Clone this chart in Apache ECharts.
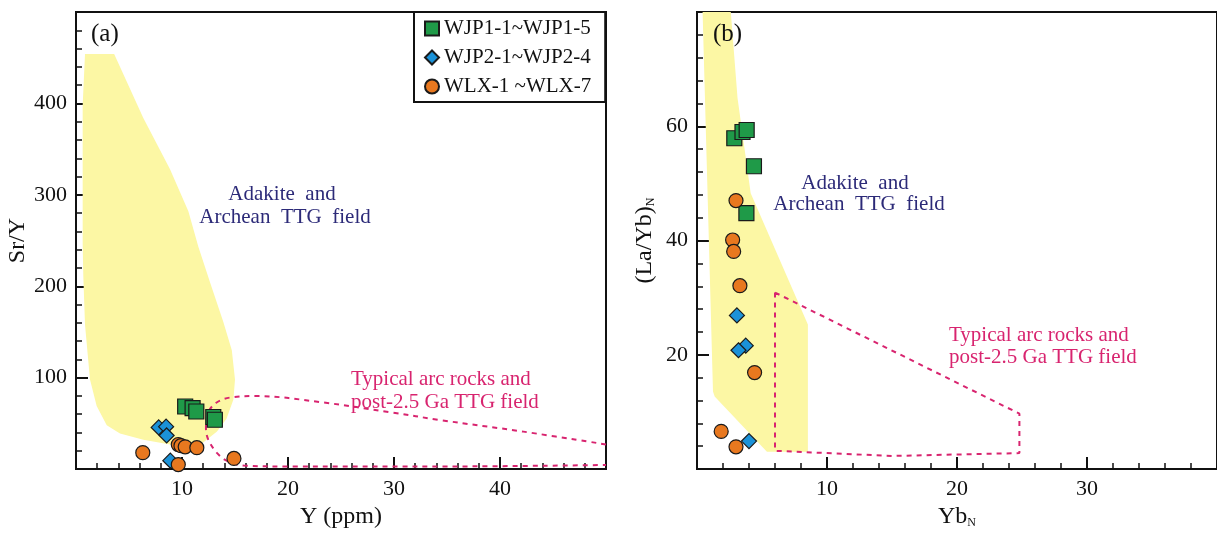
<!DOCTYPE html>
<html>
<head>
<meta charset="utf-8">
<script src="https://cdn.jsdelivr.net/npm/echarts@6/dist/echarts.min.js"></script>
<style>
  html, body { margin: 0; padding: 0; background: #fff; }
  #chart { width: 1217px; height: 534px; }
</style>
</head>
<body>
<div id="chart"></div>
<script>
// panel (a): Sr/Y vs Y
const wjp1A = [[10.3, 68.5], [11.0, 66.6], [11.35, 63], [12.95, 57], [13.1, 54]]
const wjp2A = [[7.8, 45.6], [8.5, 46.4], [8.55, 36.8], [8.9, 9.2]]
const wlxA = [[6.3, 18], [9.65, 26.9], [9.9, 25.6], [10.3, 24.4], [11.4, 23.4], [9.65, 5], [14.9, 11.7]]
// adakite / archean TTG field outline (a)
const adakiteA = [
  [0.85, 454], [3.6, 454], [6.35, 384], [8.87, 328], [10.6, 282], [11.55, 243], [12.65, 204],
  [13.9, 161], [14.7, 130], [15.0, 98], [14.85, 76], [14.2, 55], [13.3, 41], [12.0, 29],
  [10.45, 25], [8.87, 27], [6.35, 32], [4.15, 39], [2.9, 48], [1.95, 69], [1.32, 98],
  [0.85, 158], [0.69, 211], [0.63, 246], [0.63, 398]
]
// typical arc rocks field outline (a)
const arcA = [
  [50, 27], [42.2, 41], [34.5, 53.4], [29.6, 62.3], [23.3, 72.9], [17.05, 79.9], [14.5, 78.2],
  [13.27, 72.9], [12.48, 62.3], [12.26, 44.6], [12.48, 32.2], [13.27, 18], [14.2, 9.2],
  [15.8, 3.9], [20.2, 2.9], [35, 2.9], [50, 4.5]
]

// panel (b): (La/Yb)N vs YbN
const wjp1B = [[2.87, 57.9], [3.5, 59.0], [3.82, 59.35], [4.38, 53.0], [3.8, 44.8]]
const wjp2B = [[3.07, 26.9], [3.75, 21.6], [3.19, 20.8], [4.0, 4.9]]
const wlxB = [[3.0, 47.0], [2.74, 40.1], [2.82, 38.1], [3.3, 32.1], [4.43, 16.9], [1.86, 6.6], [3.0, 3.9]]
const adakiteB = [
  [0.43, 80], [2.6, 80], [3.12, 64.9], [4.13, 48.3], [8.53, 25.3], [8.53, 3.04],
  [5.38, 3.04], [1.36, 12.7], [1.23, 13.6]
]
const arcB = [[6.0, 30.9], [24.8, 9.7], [24.8, 2.8], [15, 2.3], [6.0, 3.2], [6.0, 30.9]]

const seriesNames = ['WJP1-1~WJP1-5', 'WJP2-1~WJP2-4', 'WLX-1 ~WLX-7']

const FONT = '"Liberation Serif", "DejaVu Serif", serif'
const INK = '#111'
const YELLOW = '#fcf7a4'
const MAGENTA = '#d8246f'
const NAVY = '#2c2a78'

function valueAxis(gridIndex, min, max, interval, name, nameGap) {
  return {
    type: 'value', gridIndex, min, max, interval,
    name, nameLocation: 'middle', nameGap,
    nameTextStyle: {
      fontFamily: FONT, fontSize: 24, color: INK,
      rich: { n: { fontFamily: FONT, fontSize: 12, color: INK, verticalAlign: 'bottom', padding: [12, 0, 0, 0] } }
    },
    axisLine: { show: true, onZero: false, lineStyle: { color: INK, width: 2 } },
    axisTick: { inside: true, length: 12, lineStyle: { color: INK, width: 2 } },
    minorTick: { show: true, splitNumber: 5, length: 6, lineStyle: { color: INK, width: 1.5 } },
    splitLine: { show: false },
    axisLabel: { showMinLabel: false, showMaxLabel: false, fontFamily: FONT, fontSize: 22, color: INK, margin: 9 }
  }
}

function field(points, axisIdx) {
  return {
    type: 'custom', xAxisIndex: axisIdx, yAxisIndex: axisIdx, silent: true, z: 1,
    data: [[0, 0]],
    renderItem: (params, api) => ({
      type: 'polygon',
      shape: { points: points.map(p => api.coord(p)) },
      style: { fill: YELLOW }
    })
  }
}

function dashed(points, axisIdx, smooth) {
  return {
    type: 'line', xAxisIndex: axisIdx, yAxisIndex: axisIdx, silent: true, z: 2,
    data: points, smooth, symbol: 'none',
    lineStyle: { color: MAGENTA, width: 2, type: [5, 5] }
  }
}

function samples(name, data, axisIdx, symbol, size, color) {
  return {
    name, type: 'scatter', xAxisIndex: axisIdx, yAxisIndex: axisIdx, z: 5,
    data, symbol, symbolSize: size,
    itemStyle: { color, borderColor: '#1a1a1a', borderWidth: 1.2, opacity: 1 }
  }
}

function label(text, x, y, fill, size, align) {
  return {
    type: 'text', x, y, z: 10,
    style: { text, fill, font: size + 'px ' + FONT, align: align || 'center', verticalAlign: 'middle' }
  }
}

const chart = echarts.init(document.getElementById('chart'))
chart.setOption({
  animation: false,
  backgroundColor: '#fff',
  grid: [
    { left: 76, top: 12, width: 530, height: 470, show: true, borderColor: INK, borderWidth: 2, backgroundColor: 'transparent' },
    { left: 697, top: 12, right: -10, bottom: 53, show: true, borderColor: INK, borderWidth: 2, backgroundColor: 'transparent' }
  ],
  xAxis: [
    valueAxis(0, 0, 50, 10, 'Y (ppm)', 31),
    valueAxis(1, 0, 40, 10, 'Yb{n|N}', 33)
  ],
  yAxis: [
    valueAxis(0, 0, 500, 100, 'Sr/Y', 41),
    valueAxis(1, 0, 80, 20, '(La/Yb){n|N}', 40)
  ],
  legend: {
    data: seriesNames,
    orient: 'vertical', left: 414, top: 12,
    backgroundColor: '#fff', borderColor: INK, borderWidth: 2, borderRadius: 0,
    padding: [6, 14, 5, 10], itemGap: 8, itemWidth: 14, itemHeight: 14,
    textStyle: { fontFamily: FONT, fontSize: 21, color: INK },
    z: 20
  },
  graphic: [
    label('(a)', 91, 34, INK, 25, 'left'),
    label('Adakite  and', 282, 194, NAVY, 21),
    label('Archean  TTG  field', 285, 217, NAVY, 21),
    label('Typical arc rocks and', 351, 379, MAGENTA, 21, 'left'),
    label('post-2.5 Ga TTG field', 351, 402, MAGENTA, 21, 'left'),
    label('(b)', 713, 34, INK, 25, 'left'),
    label('Adakite  and', 855, 183, NAVY, 21),
    label('Archean  TTG  field', 859, 204, NAVY, 21),
    label('Typical arc rocks and', 949, 335, MAGENTA, 21, 'left'),
    label('post-2.5 Ga TTG field', 949, 357, MAGENTA, 21, 'left')
  ],
  series: [
    field(adakiteA, 0),
    field(adakiteB, 1),
    dashed(arcA, 0, 0.35),
    dashed(arcB, 1, false),
    samples(seriesNames[0], wjp1A, 0, 'rect', 15, '#1f9a48'),
    samples(seriesNames[1], wjp2A, 0, 'diamond', 15, '#1b92d8'),
    samples(seriesNames[2], wlxA, 0, 'circle', 14, '#e8781f'),
    samples(seriesNames[0], wjp1B, 1, 'rect', 15, '#1f9a48'),
    samples(seriesNames[1], wjp2B, 1, 'diamond', 15, '#1b92d8'),
    samples(seriesNames[2], wlxB, 1, 'circle', 14, '#e8781f')
  ]
})
</script>
</body>
</html>
